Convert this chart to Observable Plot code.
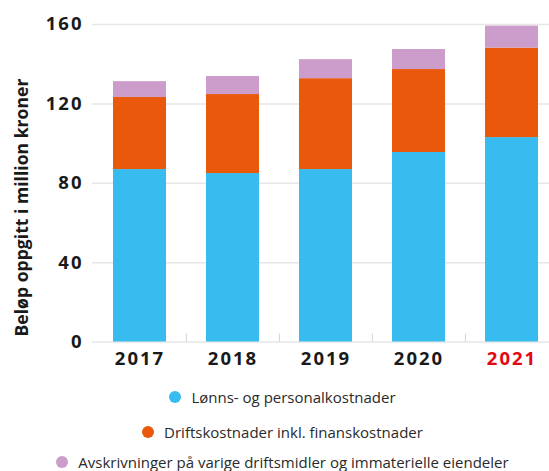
<!DOCTYPE html>
<html>
<head>
<meta charset="utf-8">
<script src="https://cdn.jsdelivr.net/npm/d3@7"></script>
<script src="https://cdn.jsdelivr.net/npm/@observablehq/plot@0.6"></script>
<style>
  html, body { margin: 0; padding: 0; background: #fff; }
  #chart svg { display: block; }
  #chart g[aria-label="y-axis tick label"] text,
  #chart g[aria-label="x-axis tick label"] text { letter-spacing: 2px; }
  .legend { width: 549px; box-sizing: border-box; padding-left: 16px; font-family: "Open Sans", sans-serif; font-size: 15px; color: #2a2a2a; }
  .legend .row { display: flex; justify-content: center; align-items: center; }
  .legend .dot { width: 12px; height: 12px; border-radius: 50%; margin-right: 10px; flex: none; }
</style>
</head>
<body>
<div id="chart"></div>
<div class="legend" id="legend"></div>
<script>
const years = ["2017", "2018", "2019", "2020", "2021"];
const lonn = [86.9, 84.9, 86.9, 95.5, 103.0];
const drift = [36.3, 39.8, 45.8, 41.8, 45.1];
const avskr = [8.0, 9.1, 9.6, 10.1, 11.1];
const seriesNames = [
  "Lønns- og personalkostnader",
  "Driftskostnader inkl. finanskostnader",
  "Avskrivninger på varige driftsmidler og immaterielle eiendeler"
];
const seriesColors = ["#38bbee", "#ea580c", "#cc9dca"];
const yTicks = [0, 40, 80, 120, 160];
const yLabel = "Beløp oppgitt i million kroner";
const highlightYear = "2021";

const seriesValues = [lonn, drift, avskr];
const tidy = [];
seriesNames.forEach((s, i) => years.forEach((y, j) => tidy.push({year: y, series: s, value: seriesValues[i][j]})));

const xRange = [92.3, 558.5];
const step = (xRange[1] - xRange[0]) / years.length;

const chart = Plot.plot({
  width: 549,
  height: 380,
  marginTop: 24,
  marginBottom: 38.5,
  marginLeft: 92,
  marginRight: 0,
  style: {fontFamily: "'Open Sans', sans-serif", background: "white", overflow: "visible"},
  x: {domain: years, range: xRange, paddingInner: 0.432, paddingOuter: 0.216, label: null, axis: null},
  y: {domain: [0, 160], label: null, axis: null},
  color: {domain: seriesNames, range: seriesColors},
  marks: [
    Plot.ruleY(yTicks, {stroke: "#e6e6e6", strokeWidth: 1.5}),
    Plot.ruleX(years.slice(1), {x: d => d, dx: -step / 2, y1: 0, y2: 4, stroke: "#d4d4d4", strokeWidth: 1}),
    Plot.barY(tidy, {x: "year", y: "value", fill: "series", order: seriesNames}),
    Plot.axisY({ticks: yTicks, tickSize: 0, tickPadding: 9, fontSize: 18.5, fontWeight: 700, fill: "#1a1a1a", label: null}),
    Plot.axisX({tickSize: 0, tickPadding: 10, fontSize: 18.5, fontWeight: 700, fill: d => d === highlightYear ? "#e30613" : "#1a1a1a", label: null}),
    Plot.text([yLabel], {text: d => d, frameAnchor: "left", textAnchor: "middle", rotate: -90, dx: -70, dy: 24.3, fontSize: 17.6, fontWeight: 700, fill: "#1a1a1a"})
  ]
});
document.getElementById("chart").appendChild(chart);

const legend = document.getElementById("legend");
const rowHeights = [34.6, 34.2, 26];
seriesNames.forEach((s, i) => {
  const row = document.createElement("div");
  row.className = "row";
  row.style.height = rowHeights[i] + "px";
  const dot = document.createElement("span");
  dot.className = "dot";
  dot.style.background = seriesColors[i];
  const label = document.createElement("span");
  label.textContent = s;
  row.appendChild(dot);
  row.appendChild(label);
  legend.appendChild(row);
});
</script>
</body>
</html>
